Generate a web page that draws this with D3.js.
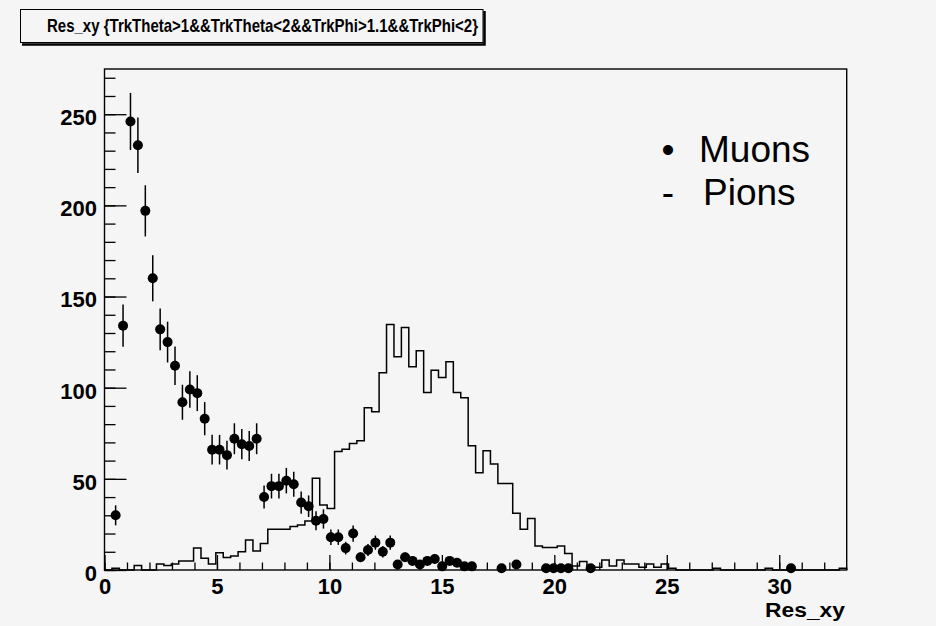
<!DOCTYPE html>
<html>
<head>
<meta charset="utf-8">
<script src="https://cdn.jsdelivr.net/npm/d3@7"></script>
<style>
  body { margin: 0; background: #f5f5f5; }
  svg { display: block; }
  .tick text { font-family: "Liberation Sans", Arial, sans-serif; font-weight: bold; font-size: 22px; fill: #000; }
</style>
</head>
<body>
<script>
// Res_xy histograms: muons (points with sqrt(N) errors) and pions (step outline)
// 100 bins of width 0.33 from 0 to 33

var binWidth = 0.33;

var muonCounts = [
	0, 30, 134, 246, 233, 197, 160, 132, 125, 112,
	92, 99, 97, 83, 66, 66, 63, 72, 69, 68,
	72, 40, 46, 46, 49, 47, 37, 35, 27, 28,
	18, 18, 12, 20, 7, 11, 15, 10, 15, 3,
	7, 5, 3, 5, 6, 2, 5, 4, 2, 2,
	0, 0, 0, 1, 0, 3, 0, 0, 0, 1,
	1, 1, 1, 0, 0, 1, 0, 0, 0, 0,
	0, 0, 0, 0, 0, 0, 0, 0, 0, 0,
	0, 0, 0, 0, 0, 0, 0, 0, 0, 0,
	0, 0, 1, 0, 0, 0, 0, 0, 0, 0
];

var pionCounts = [
	0, 1, 0, 0, 2.5, 0, 0, 3.3, 2.4, 3.3,
	5, 5, 12, 6.4, 3.3, 9.5, 6.8, 7.7, 10, 16.4,
	10.4, 14.6, 22.3, 22.3, 22.3, 23.8, 24.7, 26.9, 50.3, 35.6,
	33.8, 65, 66.3, 69.4, 70.9, 89, 86.8, 108.2, 134.7, 117,
	133, 111.5, 120.2, 97.4, 109.6, 105.6, 114.2, 97.4, 94.5, 68.2,
	53.4, 65.4, 58.1, 47.5, 47.5, 31.1, 22.3, 28.3, 13.2, 12.4,
	12.4, 13.2, 9, 2.2, 4.6, 2.2, 1.5, 5.5, 2.2, 5.5,
	3.3, 3.3, 1.5, 3.3, 1.5, 3.3, 1, 0, 0, 0,
	0, 0, 1, 0, 0, 0, 0, 0, 0, 1,
	0, 0, 0, 0, 0, 0, 0, 0, 0, 1
];

var xMajorTicks = [0, 5, 10, 15, 20, 25, 30];
var yMajorTicks = [0, 50, 100, 150, 200, 250];

var titleText = "Res_xy {TrkTheta>1&&TrkTheta<2&&TrkPhi>1.1&&TrkPhi<2}";
var xTitle = "Res_xy";
var legendEntries = [
	{ symbol: "\u2022", label: "Muons" },
	{ symbol: "-", label: "Pions" }
];

var width = 936,
	height = 626;

var frame = { left: 104.5, right: 846.7, top: 69, bottom: 570 };

var svg = d3.select("body").append("svg")
	.attr("width", width)
	.attr("height", height);

svg.append("rect")
	.attr("width", width)
	.attr("height", height)
	.attr("fill", "#f5f5f5");

var x = d3.scaleLinear()
	.domain([0, binWidth * muonCounts.length])
	.range([frame.left, frame.right]);

var y = d3.scaleLinear()
	.domain([0, 274.8])
	.range([frame.bottom, frame.top]);

// frame
svg.append("rect")
	.attr("x", frame.left)
	.attr("y", frame.top)
	.attr("width", frame.right - frame.left)
	.attr("height", frame.bottom - frame.top)
	.attr("fill", "none")
	.attr("stroke", "#000")
	.attr("stroke-width", 1.4);

// x axis: minor ticks every 1, major every 5, all pointing up
var xMinor = d3.range(0, 33, 1);
svg.append("g")
	.attr("transform", "translate(0," + frame.bottom + ")")
	.call(d3.axisBottom(x).tickValues(xMinor).tickSize(-7.5).tickSizeOuter(0).tickFormat(""))
	.call(function(g) { g.select(".domain").remove(); });

svg.append("g")
	.attr("transform", "translate(0," + frame.bottom + ")")
	.call(d3.axisBottom(x).tickValues(xMajorTicks).tickSize(-15).tickSizeOuter(0).tickPadding(8).tickFormat(d3.format("d")))
	.call(function(g) { g.select(".domain").remove(); });

// y axis: minor ticks every 10, major every 50, pointing right
var yMinor = d3.range(0, 271, 10);
svg.append("g")
	.attr("transform", "translate(" + frame.left + ",0)")
	.call(d3.axisLeft(y).tickValues(yMinor).tickSize(-11).tickSizeOuter(0).tickFormat(""))
	.call(function(g) { g.select(".domain").remove(); });

svg.append("g")
	.attr("transform", "translate(" + frame.left + ",0)")
	.call(d3.axisLeft(y).tickValues(yMajorTicks).tickSize(-22).tickSizeOuter(0).tickPadding(7.5).tickFormat(d3.format("d")))
	.call(function(g) { g.select(".domain").remove(); })
	.call(function(g) { g.selectAll("text").attr("dy", "0.47em"); });

svg.selectAll(".tick line")
	.attr("stroke", "#000")
	.attr("stroke-width", 1.3);

// pion histogram outline
var pionPoints = pionCounts.map(function(v, i) { return [i * binWidth, v]; });
pionPoints.unshift([0, 0]);
pionPoints.push([pionCounts.length * binWidth, pionCounts[pionCounts.length - 1]]);
pionPoints.push([pionCounts.length * binWidth, 0]);

var stepLine = d3.line()
	.x(function(d) { return x(d[0]); })
	.y(function(d) { return y(d[1]); })
	.curve(d3.curveStepAfter);

svg.append("path")
	.datum(pionPoints)
	.attr("d", stepLine)
	.attr("fill", "none")
	.attr("stroke", "#000")
	.attr("stroke-width", 1.5);

// muon points, empty bins are not drawn
var muons = muonCounts
	.map(function(v, i) { return { c: (i + 0.5) * binWidth, v: v }; })
	.filter(function(d) { return d.v > 0; });

svg.selectAll(".errbar")
	.data(muons)
	.enter().append("line")
	.attr("class", "errbar")
	.attr("x1", function(d) { return x(d.c); })
	.attr("x2", function(d) { return x(d.c); })
	.attr("y1", function(d) { return y(d.v - Math.sqrt(d.v)); })
	.attr("y2", function(d) { return y(d.v + Math.sqrt(d.v)); })
	.attr("stroke", "#000")
	.attr("stroke-width", 1.5);

svg.selectAll(".marker")
	.data(muons)
	.enter().append("circle")
	.attr("class", "marker")
	.attr("cx", function(d) { return x(d.c); })
	.attr("cy", function(d) { return y(d.v); })
	.attr("r", 5)
	.attr("fill", "#000");

// title box with shadow
svg.append("path")
	.attr("d", "M22,44.5 H484.5 V11")
	.attr("fill", "none")
	.attr("stroke", "#000")
	.attr("stroke-width", 2.5);

svg.append("rect")
	.attr("x", 20.5)
	.attr("y", 9.5)
	.attr("width", 462.5)
	.attr("height", 33)
	.attr("fill", "#f5f5f5")
	.attr("stroke", "#000")
	.attr("stroke-width", 1);

svg.append("text")
	.attr("x", 47)
	.attr("y", 31.7)
	.attr("textLength", 431)
	.attr("lengthAdjust", "spacingAndGlyphs")
	.style("font-family", "Liberation Sans, Arial, sans-serif")
	.style("font-weight", "bold")
	.style("font-size", "18.5px")
	.text(titleText);

// x axis title
svg.append("text")
	.attr("x", 765)
	.attr("y", 617)
	.attr("textLength", 80)
	.attr("lengthAdjust", "spacingAndGlyphs")
	.style("font-family", "Liberation Sans, Arial, sans-serif")
	.style("font-weight", "bold")
	.style("font-size", "20px")
	.text(xTitle);

// legend
var legend = svg.selectAll(".legend")
	.data(legendEntries)
	.enter().append("g")
	.attr("class", "legend")
	.attr("transform", function(d, i) { return "translate(0," + (162 + i * 43) + ")"; })
	.style("font-family", "Liberation Sans, Arial, sans-serif")
	.style("font-size", "37px");

legend.append("text")
	.attr("x", 668)
	.attr("text-anchor", "middle")
	.text(function(d) { return d.symbol; });

legend.append("text")
	.attr("x", function(d, i) { return i == 0 ? 699 : 703; })
	.text(function(d) { return d.label; });
</script>
</body>
</html>
